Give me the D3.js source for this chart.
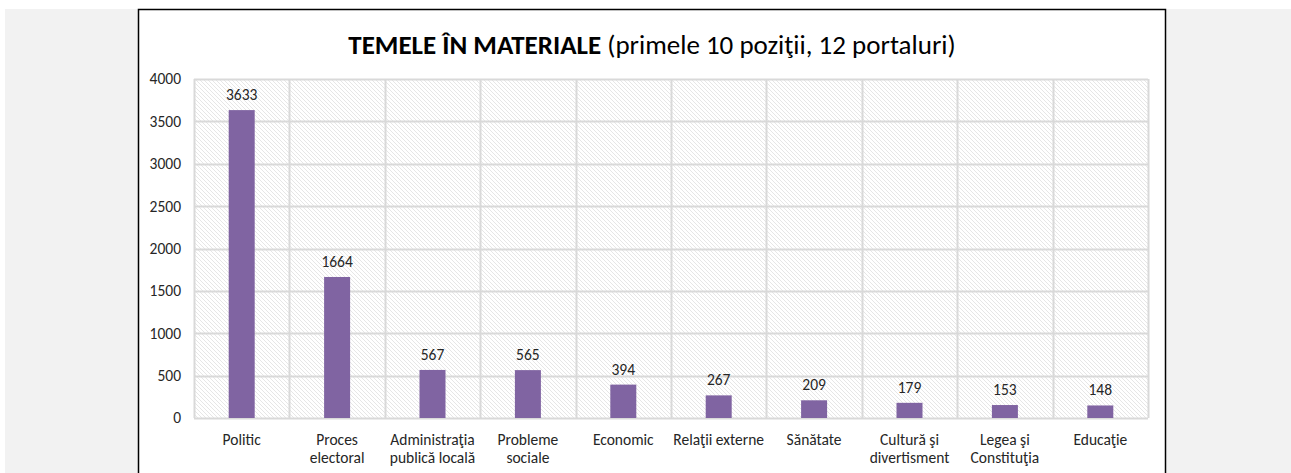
<!DOCTYPE html>
<html>
<head>
<meta charset="utf-8">
<script src="https://cdn.jsdelivr.net/npm/d3@7"></script>
<style>
  body { margin: 0; background: #fff; }
  svg { display: block; }
  text { font-family: Calibri, Carlito, Lato, "Open Sans", "Liberation Sans", sans-serif; fill: #262626; }
</style>
</head>
<body>
<div id="chart"></div>
<script>
var svgWidth = 1291;
var svgHeight = 473;

// data
var categories = ["Politic", "Proces electoral", "Administraţia publică locală", "Probleme sociale",
  "Economic", "Relaţii externe", "Sănătate", "Cultură şi divertisment", "Legea şi Constituţia", "Educaţie"];
var categoryLines = [["Politic"], ["Proces", "electoral"], ["Administraţia", "publică locală"], ["Probleme", "sociale"],
  ["Economic"], ["Relaţii externe"], ["Sănătate"], ["Cultură şi", "divertisment"], ["Legea şi", "Constituţia"], ["Educaţie"]];
var values = [3633, 1664, 567, 565, 394, 267, 209, 179, 153, 148];
var yTicks = [0, 500, 1000, 1500, 2000, 2500, 3000, 3500, 4000];

var plot = { left: 194, right: 1148, top: 79, bottom: 418 };

var svg = d3.select("#chart")
  .append("svg")
  .attr("width", svgWidth)
  .attr("height", svgHeight);

// hatch pattern for plot area
var defs = svg.append("defs");
var pat = defs.append("pattern")
  .attr("id", "hatch")
  .attr("patternUnits", "userSpaceOnUse")
  .attr("width", 4)
  .attr("height", 4);
pat.append("rect").attr("width", 4).attr("height", 4).attr("fill", "#ffffff");
pat.append("path")
  .attr("d", "M-1,-1 L5,5 M-1,3 L1,5 M3,-1 L5,1")
  .attr("stroke", "#e6e6e6")
  .attr("stroke-width", 1);

// page background
svg.append("rect")
  .attr("x", 5).attr("y", 9)
  .attr("width", svgWidth - 5).attr("height", svgHeight - 9)
  .attr("fill", "#f2f2f2");

// chart frame
svg.append("rect")
  .attr("x", 138.5).attr("y", 9.5)
  .attr("width", 1027).attr("height", 480)
  .attr("fill", "#ffffff")
  .attr("stroke", "#000")
  .attr("stroke-width", 1.5);

var x = d3.scaleBand()
  .domain(categories)
  .range([plot.left, plot.right])
  .paddingInner(0)
  .paddingOuter(0);

var y = d3.scaleLinear()
  .domain([0, 4000])
  .range([plot.bottom, plot.top]);

// plot background
svg.append("rect")
  .attr("x", plot.left).attr("y", plot.top)
  .attr("width", plot.right - plot.left).attr("height", plot.bottom - plot.top)
  .attr("fill", "url(#hatch)");

// horizontal gridlines
svg.append("g")
  .selectAll("line")
  .data(yTicks)
  .join("line")
  .attr("x1", plot.left).attr("x2", plot.right)
  .attr("y1", d => Math.round(y(d)) + 0.5)
  .attr("y2", d => Math.round(y(d)) + 0.5)
  .attr("stroke", "#d9d9d9")
  .attr("stroke-width", 2);

// vertical category separators
var seps = categories.map(c => x(c)).concat([plot.right]);
svg.append("g")
  .selectAll("line")
  .data(seps)
  .join("line")
  .attr("x1", d => Math.round(d) + 0.5).attr("x2", d => Math.round(d) + 0.5)
  .attr("y1", plot.top).attr("y2", plot.bottom)
  .attr("stroke", "#d9d9d9")
  .attr("stroke-width", 2);

// y axis labels
svg.append("g")
  .selectAll("text")
  .data(yTicks)
  .join("text")
  .attr("x", 181)
  .attr("y", d => y(d))
  .attr("dy", "0.35em")
  .attr("text-anchor", "end")
  .attr("font-size", "15.5px")
  .text(d => d);

// bars
var barW = 26;
svg.append("g")
  .selectAll("rect")
  .data(values)
  .join("rect")
  .attr("x", (d, i) => x(categories[i]) + x.bandwidth() / 2 - barW / 2)
  .attr("y", d => y(d))
  .attr("width", barW)
  .attr("height", d => y(0) - y(d))
  .attr("fill", "#8064a2");

// value labels
svg.append("g")
  .selectAll("text")
  .data(values)
  .join("text")
  .attr("x", (d, i) => x(categories[i]) + x.bandwidth() / 2)
  .attr("y", d => y(d) - 10)
  .attr("text-anchor", "middle")
  .attr("font-size", "15.5px")
  .text(d => d);

// category labels
var catG = svg.append("g")
  .selectAll("text")
  .data(categoryLines)
  .join("text")
  .attr("x", (d, i) => x(categories[i]) + x.bandwidth() / 2)
  .attr("y", 445)
  .attr("text-anchor", "middle")
  .attr("font-size", "15.5px");
catG.selectAll("tspan")
  .data(d => d)
  .join("tspan")
  .attr("x", function() { return d3.select(this.parentNode).attr("x"); })
  .attr("dy", (d, i) => i === 0 ? 0 : 18)
  .text(d => d);

// title
var title = svg.append("text")
  .attr("x", 652)
  .attr("y", 54)
  .attr("text-anchor", "middle")
  .attr("font-size", "27px")
  .style("fill", "#000");
title.append("tspan").attr("font-weight", "bold").text("TEMELE ÎN MATERIALE");
title.append("tspan").text(" (primele 10 poziţii, 12 portaluri)");
</script>
</body>
</html>
